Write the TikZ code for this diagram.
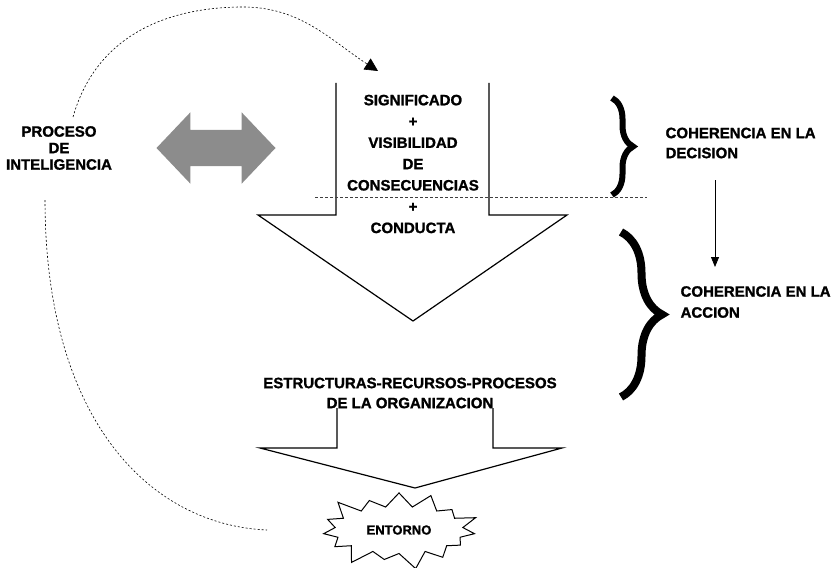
\documentclass[tikz,border=0pt]{standalone}
\usepackage{fontspec}
\setmainfont{Liberation Sans}
\newfontfamily\heavy{Liberation Sans}[UprightFont={* Bold},FakeBold=1.3]
\usetikzlibrary{arrows,arrows.meta,positioning,shapes.arrows,shapes.symbols,decorations.pathreplacing}

\tikzset{
    lbl/.style={font=\heavy\fontsize{15}{#1}\selectfont,align=center,inner sep=0pt},
    lbl/.default=20,
    looparc/.style={line width=0.6pt,dash pattern=on 2pt off 2pt},
    splitline/.style={line width=0.8pt,dash pattern=on 3pt off 2pt,black!75},
    curly/.style 2 args={decorate,decoration={brace,amplitude=#1},line width=#2},
    twoway/.style={double arrow,fill=black!45,draw=none,minimum height=119pt,inner xsep=0pt,inner ysep=17.5pt,double arrow head extend=17.5pt,double arrow tip angle=93},
    burst/.style={draw,starburst,starburst points=15,starburst point height=19pt,inner xsep=13pt,inner ysep=12pt,line width=1pt}
}

\begin{document}
\begin{tikzpicture}[x=1pt,y=-1pt,line width=1.2pt]
                        \useasboundingbox (0,0) rectangle (834,567);
                        \node[lbl=16.5] (proceso) at (59,148) {PROCESO\\DE\\INTELIGENCIA};
                        \node[twoway] (ida) at (216,148) {};
                        \node[lbl=21.3] (signif) at (413,164) {SIGNIFICADO\\+\\VISIBILIDAD\\DE\\CONSECUENCIAS\\+\\CONDUCTA};
                        \node[lbl,align=left,anchor=west] (decision) at (665,143) {COHERENCIA EN LA\\DECISION};
                        \node[lbl=21,align=left,anchor=west] (accion) at (680,302) {COHERENCIA EN LA\\ACCION};
                        \node[lbl] (estruct) at (410,393) {ESTRUCTURAS-RECURSOS-PROCESOS\\DE LA ORGANIZACION};
                        \node[burst,font=\heavy\fontsize{13}{15}\selectfont] (entorno) at (399,530) {ENTORNO};
                        \coordinate (arcout) at (73,117);
                        \coordinate (arcin) at (378,71);
                        \coordinate (backtop) at (45,200);
                        \coordinate (backend) at (267,530);
                        \coordinate (cutl) at (315,197);
                        \coordinate (cutr) at (647,197);
                        \coordinate (stepa) at (715,180);
                        \coordinate (stepb) at (715,267);
                        \draw (336,83) -- (336,215) -- (258,215) -- (413,321) -- (567,215) -- (489,215) -- (489,83);
                        \draw (337,408) -- (337,448) -- (260,448) -- (415,488) -- (562,448) -- (493,448) -- (493,408);
                        \draw[splitline] (cutl) -- (cutr);
                        \draw[looparc,-{Triangle[length=13pt,width=13pt]}] (arcout) .. controls (95,40) and (160,8) .. (240,7) .. controls (300,6) and (330,40) .. (arcin);
                        \draw[looparc] (backtop) .. controls (45,420) and (150,525) .. (backend);
                        \draw[line width=0.8pt,-{Triangle[length=10pt,width=8pt]}] (stepa) -- (stepb);
                        \draw[curly={21pt}{6pt}] (612,98) -- (612,195);
                        \draw[curly={41pt}{8pt}] (621,232) -- (621,397);
                    \end{tikzpicture}
\end{document}
